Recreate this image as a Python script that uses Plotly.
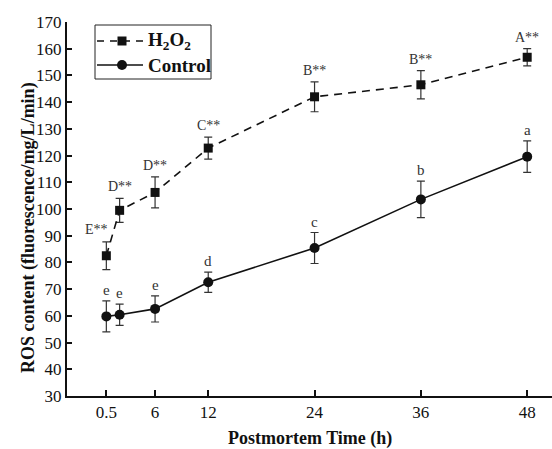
import plotly.graph_objects as go

time_h = [0.5, 2, 6, 12, 24, 36, 48]
h2o2_mean = [82.5, 99.5, 106.2, 122.8, 142.0, 146.5, 156.8]
h2o2_err = [5.2, 4.5, 5.8, 4.1, 5.6, 5.3, 3.2]
ctrl_mean = [59.8, 60.4, 62.6, 72.6, 85.4, 103.6, 119.6]
ctrl_err = [5.8, 4.0, 4.9, 3.8, 5.8, 6.8, 5.9]
h2o2_labels = ["E**", "D**", "D**", "C**", "B**", "B**", "A**"]
ctrl_labels = ["e", "e", "e", "d", "c", "b", "a"]
tick_vals = [0.5, 6, 12, 24, 36, 48]
tick_text = ["0.5", "6", "12", "24", "36", "48"]
legend_names = ["H<sub>2</sub>O<sub>2</sub>", "Control"]

FONT = "Liberation Serif"
BLACK = "#111111"
W, H = 552, 449
ML, MR, MT, MB = 67, 0, 22, 53
PW, PH = W - ML - MR, H - MT - MB


def px_x(p):
    return (p - ML) / PW


def px_y(p):
    return (H - MB - p) / PH


fig = go.Figure()
fig.add_trace(go.Scatter(
    x=time_h, y=h2o2_mean, mode="lines+markers", name=legend_names[0],
    line=dict(color=BLACK, width=1.6, dash="8px,6px"),
    marker=dict(symbol="square", size=9, color=BLACK),
    error_y=dict(type="data", array=h2o2_err, color="#333333", thickness=1.2, width=4),
))
fig.add_trace(go.Scatter(
    x=time_h, y=ctrl_mean, mode="lines+markers", name=legend_names[1],
    line=dict(color=BLACK, width=1.6),
    marker=dict(symbol="circle", size=10, color=BLACK),
    error_y=dict(type="data", array=ctrl_err, color="#333333", thickness=1.2, width=4),
))

annotations = []
for i, (t, m, e, lab) in enumerate(zip(time_h, h2o2_mean, h2o2_err, h2o2_labels)):
    xs = -10 if i == 0 else 0
    ys = 3 if i == 0 else 2
    annotations.append(dict(x=t, y=m + e, text=lab, showarrow=False, xanchor="center",
                            yanchor="bottom", xshift=xs, yshift=ys,
                            font=dict(family=FONT, size=14, color="#333333")))
for t, m, e, lab in zip(time_h, ctrl_mean, ctrl_err, ctrl_labels):
    annotations.append(dict(x=t, y=m + e, text=lab, showarrow=False, xanchor="center",
                            yanchor="bottom", yshift=1,
                            font=dict(family=FONT, size=15, color="#333333")))

annotations.append(dict(xref="paper", yref="paper", x=0.5, y=0, yshift=-42, yanchor="middle",
                        xanchor="center",
                        text="<b>Postmortem Time (h)</b>", showarrow=False,
                        font=dict(family=FONT, size=18, color=BLACK)))
annotations.append(dict(xref="paper", yref="paper", x=0, y=0.5, xshift=-39, yshift=-19,
                        xanchor="center", yanchor="middle",
                        textangle=-90, text="<b>ROS content (fluorescence/mg/L/min)</b>",
                        showarrow=False, font=dict(family=FONT, size=18, color=BLACK)))

# manual legend (box, symbols, texts)
shapes = [dict(type="rect", xref="paper", yref="paper",
               x0=px_x(95), x1=px_x(211), y0=px_y(79), y1=px_y(25),
               line=dict(color="#222222", width=1), fillcolor="white", layer="above")]
rows = [41, 65]
shapes.append(dict(type="line", xref="paper", yref="paper", x0=px_x(97), x1=px_x(143),
                   y0=px_y(rows[0]), y1=px_y(rows[0]),
                   line=dict(color=BLACK, width=1.6, dash="7px,6px"), layer="above"))
shapes.append(dict(type="rect", xref="paper", yref="paper", xsizemode="pixel", ysizemode="pixel",
                   xanchor=px_x(122), yanchor=px_y(rows[0]), x0=-4.5, x1=4.5, y0=-4.5, y1=4.5,
                   fillcolor=BLACK, line=dict(width=0), layer="above"))
shapes.append(dict(type="line", xref="paper", yref="paper", x0=px_x(97), x1=px_x(143),
                   y0=px_y(rows[1]), y1=px_y(rows[1]),
                   line=dict(color=BLACK, width=1.6), layer="above"))
shapes.append(dict(type="circle", xref="paper", yref="paper", xsizemode="pixel", ysizemode="pixel",
                   xanchor=px_x(122), yanchor=px_y(rows[1]), x0=-5, x1=5, y0=-5, y1=5,
                   fillcolor=BLACK, line=dict(width=0), layer="above"))
for r, name in zip(rows, legend_names):
    annotations.append(dict(xref="paper", yref="paper", x=px_x(146), y=px_y(r),
                            xanchor="left", yanchor="middle", showarrow=False,
                            text="<b>" + name + "</b>",
                            font=dict(family=FONT, size=19, color=BLACK)))

fig.update_layout(
    width=W, height=H,
    margin=dict(l=ML, r=MR, t=MT, b=MB),
    paper_bgcolor="white", plot_bgcolor="white",
    font=dict(family=FONT, size=16, color=BLACK),
    showlegend=False,
    annotations=annotations,
    shapes=shapes,
)
fig.update_xaxes(range=[-3.94, 50.8], tickvals=tick_vals, ticktext=tick_text,
                 showline=True, linecolor=BLACK, linewidth=2, ticks="inside",
                 ticklen=6, tickwidth=1.5, tickcolor=BLACK, showgrid=False, zeroline=False,
                 tickfont=dict(family=FONT, size=17, color=BLACK))
fig.update_yaxes(range=[30, 170], dtick=10, showline=True, linecolor=BLACK, linewidth=2,
                 ticks="inside", ticklen=5, tickwidth=1.5, tickcolor=BLACK,
                 showgrid=False, zeroline=False,
                 tickfont=dict(family=FONT, size=17, color=BLACK))

fig.write_html("out.html")
